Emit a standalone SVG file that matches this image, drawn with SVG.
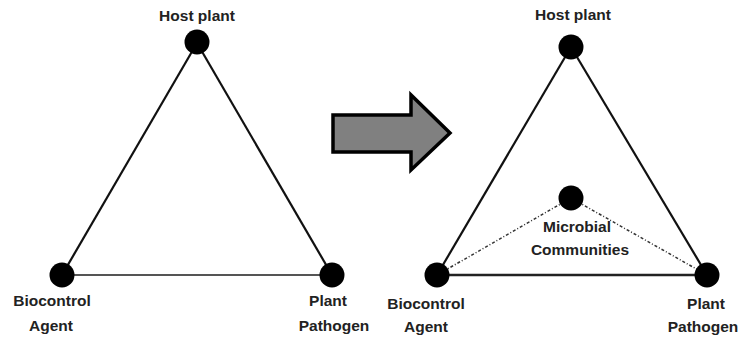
<svg xmlns="http://www.w3.org/2000/svg" width="745" height="340" viewBox="0 0 745 340">
<style>
.side{stroke:#111;stroke-width:2.2;fill:none}
.base{stroke:#555;stroke-width:2;fill:none}
.base2{stroke:#222;stroke-width:2.4;fill:none}
.dot{stroke:#333;stroke-width:1.5;fill:none;stroke-dasharray:3 2 1 2}
.node{fill:#000}
text{font-family:"Liberation Sans",Arial,sans-serif;font-size:15.5px;font-weight:bold;fill:#222;text-anchor:middle}
</style>
<rect width="745" height="340" fill="#fff"/>
<g id="connectors">
<line class="side" x1="197" y1="43" x2="62" y2="275"/>
<line class="side" x1="197" y1="43" x2="332" y2="275"/>
<line class="base" x1="62" y1="275" x2="332" y2="275"/>
<line class="side" x1="571" y1="47" x2="437" y2="275"/>
<line class="side" x1="571" y1="47" x2="707" y2="275"/>
<line class="base2" x1="437" y1="275" x2="707" y2="275"/>
<line class="dot" x1="571" y1="198" x2="437" y2="275"/>
<line class="dot" x1="571" y1="198" x2="707" y2="275"/>
</g>
<g id="arrow">
<polygon points="333,115 411,115 411,95 450,133 411,170 411,152 333,152" fill="#808080" stroke="#000" stroke-width="3.5" stroke-linejoin="miter"/>
</g>
<g id="left-host"><circle class="node" cx="197" cy="42" r="12.5"/><text x="197" y="21">Host plant</text></g>
<g id="left-bio"><circle class="node" cx="62" cy="275" r="12.5"/><text x="52" y="306">Biocontrol</text><text x="51" y="331">Agent</text></g>
<g id="left-path"><circle class="node" cx="332" cy="275" r="12.5"/><text x="328" y="306">Plant</text><text x="334" y="331">Pathogen</text></g>
<g id="right-host"><circle class="node" cx="571" cy="47" r="12.5"/><text x="573" y="20">Host plant</text></g>
<g id="right-micro"><circle class="node" cx="571" cy="198" r="12.5"/><text x="577" y="232">Microbial</text><text x="580" y="255">Communities</text></g>
<g id="right-bio"><circle class="node" cx="437" cy="275" r="12.5"/><text x="426" y="309">Biocontrol</text><text x="426" y="332">Agent</text></g>
<g id="right-path"><circle class="node" cx="707" cy="275" r="12.5"/><text x="706" y="309">Plant</text><text x="703" y="332">Pathogen</text></g>
</svg>
